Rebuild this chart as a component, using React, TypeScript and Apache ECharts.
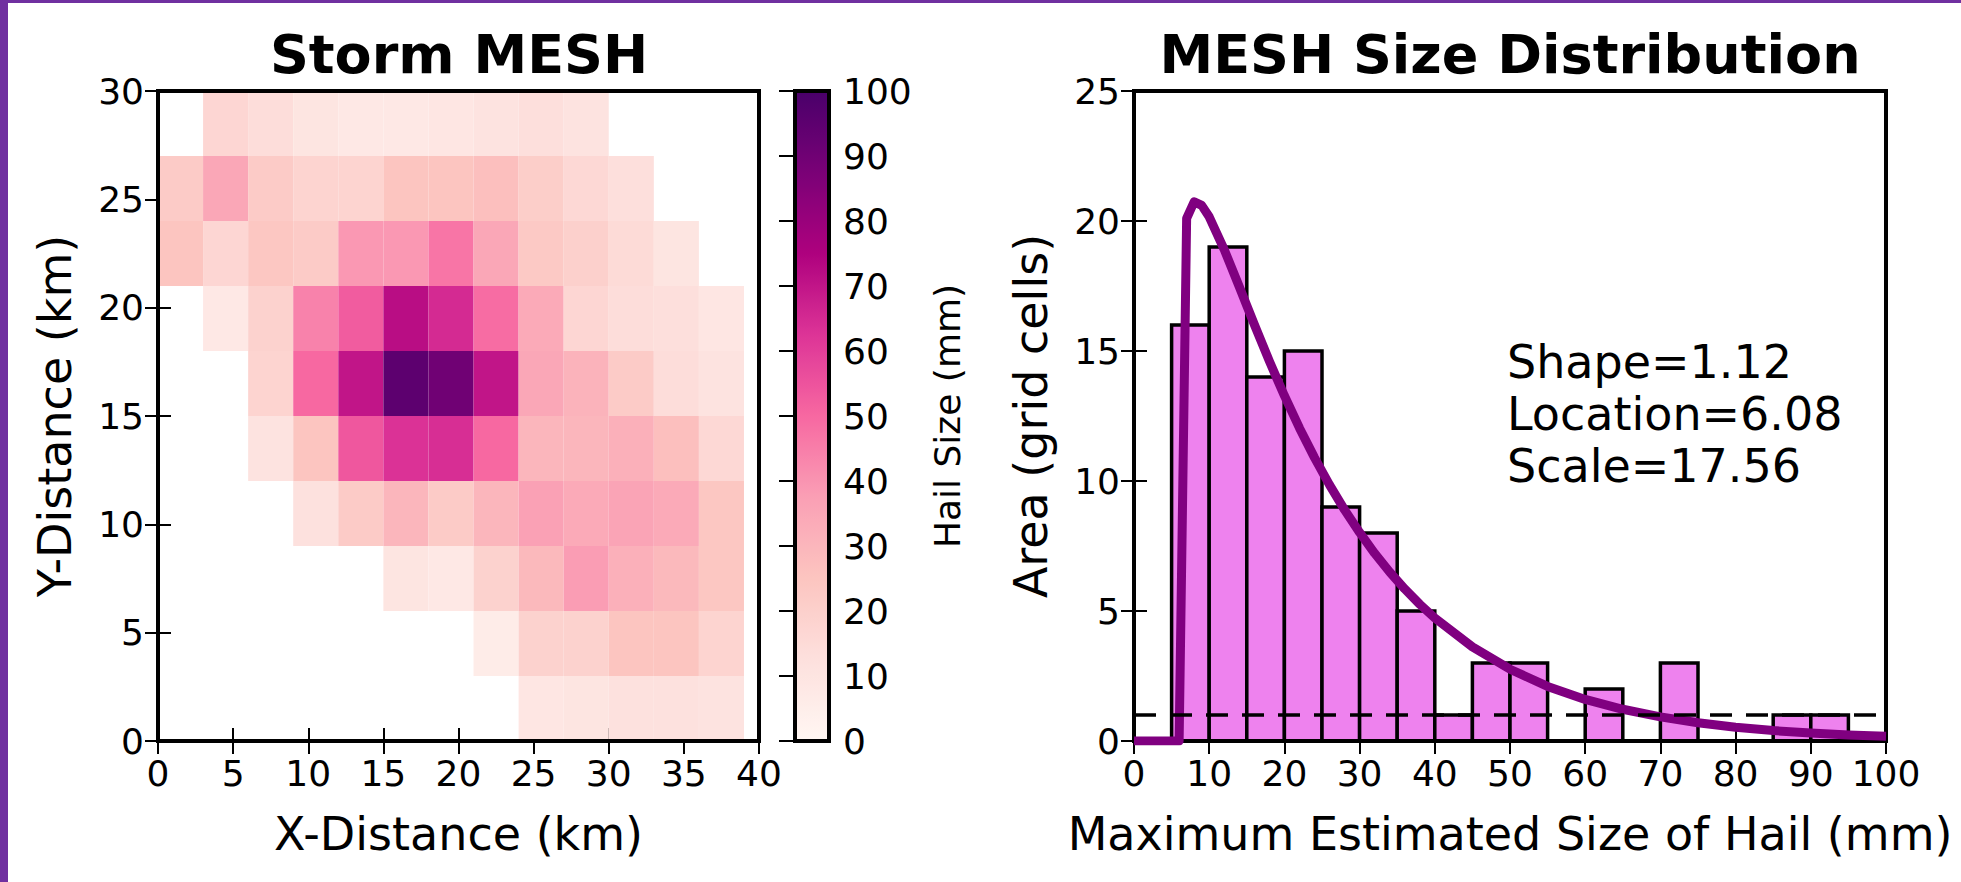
import React, { useEffect, useRef } from "react";
import * as echarts from "echarts";

// ---------- Heatmap data (Storm MESH) ----------
const cellSize = 3; // km per grid cell
const xCellStarts = [0, 3, 6, 9, 12, 15, 18, 21, 24, 27, 30, 33, 36];
// rows listed from top (y 27-30) to bottom (y 0-3)
const yCellStarts = [27, 24, 21, 18, 15, 12, 9, 6, 3, 0];
const meshRows: (number | null)[][] = [
  [null, 17, 14, 10, 8, 8, 9, 11, 13, 11, null, null, null],
  [22, 35, 22, 18, 18, 25, 25, 27, 21, 16, 13, null, null],
  [25, 17, 24, 22, 39, 39, 47, 35, 23, 20, 15, 10, null],
  [null, 8, 19, 44, 53, 72, 65, 49, 34, 17, 14, 13, 9],
  [null, null, 18, 50, 70, 95, 90, 70, 35, 31, 22, 14, 11],
  [null, null, 11, 25, 54, 63, 64, 50, 30, 30, 32, 27, 16],
  [null, null, null, 12, 22, 30, 22, 30, 37, 34, 36, 34, 24],
  [null, null, null, null, null, 10, 8, 19, 29, 38, 32, 29, 24],
  [null, null, null, null, null, null, null, 6, 19, 19, 25, 25, 18],
  [null, null, null, null, null, null, null, null, 9, 10, 12, 12, 11],
];

// ---------- Histogram data (MESH Size Distribution) ----------
const binWidth = 5;
const binStarts = [0, 5, 10, 15, 20, 25, 30, 35, 40, 45, 50, 55, 60, 65, 70, 75, 80, 85, 90, 95];
const binCounts = [0, 16, 19, 14, 15, 9, 8, 5, 1, 3, 3, 0, 2, 0, 3, 0, 0, 1, 1, 0];
const fitX = [0, 6, 7, 8, 9, 10, 12, 14, 16, 18, 20, 22, 24, 26, 28, 30, 32, 34, 36, 38, 40, 45, 50, 55, 60, 65, 70, 75, 80, 85, 90, 95, 100];
const fitY = [0, 0, 20.1, 20.74, 20.6, 20.16, 18.9, 17.47, 16.02, 14.61, 13.28, 12.04, 10.9, 9.85, 8.89, 8.02, 7.22, 6.5, 5.85, 5.26, 4.73, 3.62, 2.76, 2.1, 1.6, 1.22, 0.93, 0.7, 0.53, 0.4, 0.31, 0.23, 0.18];
const thresholdArea = 1;
const fitText = ["Shape=1.12", "Location=6.08", "Scale=17.56"];

const rdPu = ["#fff7f3", "#fde0dd", "#fcc5c0", "#fa9fb5", "#f768a1", "#dd3497", "#ae017e", "#7a0177", "#49006a"];
const FONT = "DejaVu Sans";

export default function App() {
  const ref = useRef<HTMLDivElement>(null);
  useEffect(() => {
    if (!ref.current) return;
    const chart = echarts.init(ref.current, undefined, { renderer: "svg" });

    const cellData: number[][] = [];
    meshRows.forEach((row, r) => {
      row.forEach((v, c) => {
        if (v !== null) cellData.push([xCellStarts[c], yCellStarts[r], v]);
      });
    });
    const histData = binStarts.map((s, i) => [s, s + binWidth, binCounts[i]]);
    const fitData = fitX.map((x, i) => [x, fitY[i]]);

    const tickStyle = { show: true, inside: true, length: 13, lineStyle: { color: "#000", width: 2 } };
    const label = { fontSize: 36, color: "#000", fontFamily: FONT };
    const nameStyle = { fontSize: 46, color: "#000", fontFamily: FONT };
    const tickOnly = (extra: any) => ({
      type: "value",
      axisLine: { show: false },
      axisTick: tickStyle,
      axisLabel: { show: false },
      splitLine: { show: false },
      ...extra,
    });

    const option: any = {
      animation: false,
      backgroundColor: "#ffffff",
      textStyle: { fontFamily: FONT },
      grid: [
        { left: 158, top: 91, width: 601, height: 650, show: true, borderColor: "#000", borderWidth: 4, z: 3 },
        { left: 795, top: 91, width: 34, height: 650, show: true, borderColor: "#000", borderWidth: 4, z: 10 },
        { left: 1134, top: 91, width: 752, height: 650, show: true, borderColor: "#000", borderWidth: 4, z: 3 },
      ],
      xAxis: [
        {
          type: "value", gridIndex: 0, position: "bottom", min: 0, max: 40, interval: 5,
          axisLine: { show: false }, axisTick: tickStyle, splitLine: { show: false },
          axisLabel: { ...label, margin: 14 },
          name: "X-Distance (km)", nameLocation: "middle", nameGap: 70, nameTextStyle: nameStyle,
        },
        tickOnly({ gridIndex: 0, position: "top", min: 0, max: 40, interval: 5 }),
        { type: "value", gridIndex: 1, min: 0, max: 1, show: false },
        {
          type: "value", gridIndex: 2, position: "bottom", min: 0, max: 100, interval: 10,
          axisLine: { show: false }, axisTick: tickStyle, splitLine: { show: false },
          axisLabel: { ...label, margin: 14 },
          name: "Maximum Estimated Size of Hail (mm)", nameLocation: "middle", nameGap: 70, nameTextStyle: nameStyle,
        },
        tickOnly({ gridIndex: 2, position: "top", min: 0, max: 100, interval: 10 }),
      ],
      yAxis: [
        {
          type: "value", gridIndex: 0, position: "left", min: 0, max: 30, interval: 5,
          axisLine: { show: false }, axisTick: tickStyle, splitLine: { show: false },
          axisLabel: { ...label, margin: 14 },
          name: "Y-Distance (km)", nameLocation: "middle", nameGap: 80, nameTextStyle: nameStyle,
        },
        tickOnly({ gridIndex: 0, position: "right", min: 0, max: 30, interval: 5 }),
        {
          type: "value", gridIndex: 1, position: "right", min: 0, max: 100, interval: 10,
          axisLine: { show: false },
          axisTick: { show: true, inside: true, length: 16, lineStyle: { color: "#000", width: 2 } },
          splitLine: { show: false },
          axisLabel: { ...label, margin: 14 },
          name: "Hail Size (mm)", nameLocation: "middle", nameGap: 100,
          nameTextStyle: { fontSize: 36, color: "#000", fontFamily: FONT },
          z: 10,
        },
        {
          type: "value", gridIndex: 2, position: "left", min: 0, max: 25, interval: 5,
          axisLine: { show: false }, axisTick: tickStyle, splitLine: { show: false },
          axisLabel: { ...label, margin: 14 },
          name: "Area (grid cells)", nameLocation: "middle", nameGap: 80, nameTextStyle: nameStyle,
        },
        tickOnly({ gridIndex: 2, position: "right", min: 0, max: 25, interval: 5 }),
      ],
      visualMap: [
        {
          type: "continuous", min: 0, max: 100, dimension: 2, seriesIndex: 0,
          inRange: { color: rdPu }, orient: "vertical",
          left: 795, top: 91, itemWidth: 34, itemHeight: 650, padding: 0,
          calculable: false, hoverLink: false, show: true, z: 1,
        },
      ],
      series: [
        {
          type: "custom", xAxisIndex: 0, yAxisIndex: 0,
          dimensions: ["x", "y", "mesh"], encode: { x: 0, y: 1 },
          data: cellData,
          renderItem: (params: any, api: any) => {
            const x0 = api.value(0);
            const y0 = api.value(1);
            const p0 = api.coord([x0, y0 + cellSize]);
            const p1 = api.coord([x0 + cellSize, y0]);
            return {
              type: "rect",
              shape: { x: p0[0], y: p0[1], width: p1[0] - p0[0], height: p1[1] - p0[1] },
              style: { fill: api.visual("color") },
            };
          },
        },
        {
          type: "custom", xAxisIndex: 3, yAxisIndex: 3,
          dimensions: ["start", "end", "count"], encode: { x: [0, 1], y: 2 },
          data: histData,
          renderItem: (params: any, api: any) => {
            const c = api.value(2);
            if (!c) return null;
            const p0 = api.coord([api.value(0), c]);
            const p1 = api.coord([api.value(1), 0]);
            return {
              type: "rect",
              shape: { x: p0[0], y: p0[1], width: p1[0] - p0[0], height: p1[1] - p0[1] },
              style: { fill: "#ee82ee", stroke: "#000", lineWidth: 3.5 },
            };
          },
        },
        {
          type: "line", xAxisIndex: 3, yAxisIndex: 3, data: fitData,
          showSymbol: false, symbol: "none", silent: true,
          lineStyle: { color: "#800080", width: 9, join: "round", cap: "butt" },
          markLine: {
            silent: true, symbol: ["none", "none"], label: { show: false },
            lineStyle: { color: "#000", width: 3.5, type: [22, 14] },
            data: [{ yAxis: thresholdArea }],
          },
        },
      ],
      graphic: [
        { type: "rect", left: 0, top: 0, shape: { width: 8, height: 882 }, style: { fill: "#7030a0" }, z: 100 },
        { type: "rect", left: 0, top: 0, shape: { width: 1961, height: 3 }, style: { fill: "#7030a0" }, z: 100 },
        {
          type: "text", x: 459, y: 54,
          style: { text: "Storm MESH", fontSize: 54, fontWeight: "bold", fontFamily: FONT, fill: "#000", align: "center", verticalAlign: "middle" },
        },
        {
          type: "text", x: 1510, y: 54,
          style: { text: "MESH Size Distribution", fontSize: 54, fontWeight: "bold", fontFamily: FONT, fill: "#000", align: "center", verticalAlign: "middle" },
        },
        {
          type: "text", x: 1507, y: 336,
          style: { text: fitText.join("\n"), fontSize: 46, lineHeight: 52, fontFamily: FONT, fill: "#000", align: "left", verticalAlign: "top" },
        },
      ],
    };
    chart.setOption(option);
    return () => chart.dispose();
  }, []);
  return <div ref={ref} style={{ position: "absolute", left: 0, top: 0, width: 1961, height: 882 }} />;
}
